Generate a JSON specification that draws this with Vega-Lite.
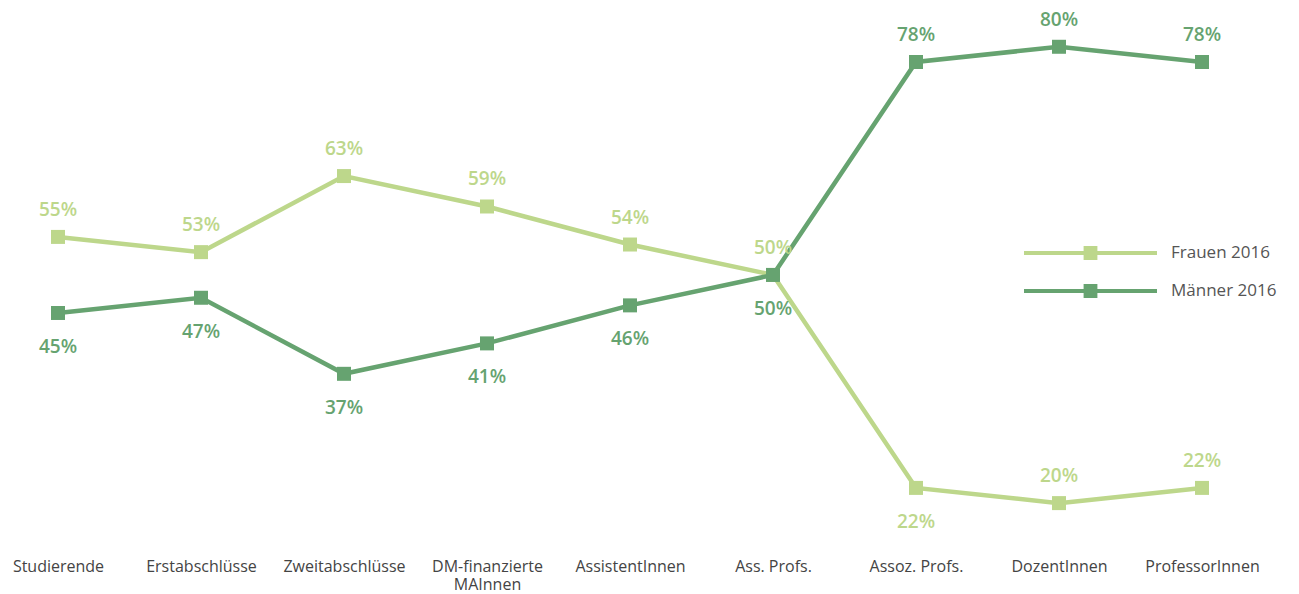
{
  "$schema": "https://vega.github.io/schema/vega-lite/v6.json",
  "width": 1260,
  "height": 540,
  "padding": 0,
  "autosize": {"type": "pad"},
  "background": "white",
  "config": {"view": {"stroke": null}, "font": "Open Sans"},
  "data": {
    "values": [
      {"cat": "Studierende", "g": "Frauen 2016", "v": 0.55},
      {"cat": "Erstabschlüsse", "g": "Frauen 2016", "v": 0.53},
      {"cat": "Zweitabschlüsse", "g": "Frauen 2016", "v": 0.63},
      {"cat": "DM-finanzierte MAInnen", "g": "Frauen 2016", "v": 0.59},
      {"cat": "AssistentInnen", "g": "Frauen 2016", "v": 0.54},
      {"cat": "Ass. Profs.", "g": "Frauen 2016", "v": 0.50},
      {"cat": "Assoz. Profs.", "g": "Frauen 2016", "v": 0.22},
      {"cat": "DozentInnen", "g": "Frauen 2016", "v": 0.20},
      {"cat": "ProfessorInnen", "g": "Frauen 2016", "v": 0.22},
      {"cat": "Studierende", "g": "Männer 2016", "v": 0.45},
      {"cat": "Erstabschlüsse", "g": "Männer 2016", "v": 0.47},
      {"cat": "Zweitabschlüsse", "g": "Männer 2016", "v": 0.37},
      {"cat": "DM-finanzierte MAInnen", "g": "Männer 2016", "v": 0.41},
      {"cat": "AssistentInnen", "g": "Männer 2016", "v": 0.46},
      {"cat": "Ass. Profs.", "g": "Männer 2016", "v": 0.50},
      {"cat": "Assoz. Profs.", "g": "Männer 2016", "v": 0.78},
      {"cat": "DozentInnen", "g": "Männer 2016", "v": 0.80},
      {"cat": "ProfessorInnen", "g": "Männer 2016", "v": 0.78}
    ]
  },
  "encoding": {
    "x": {
      "field": "cat",
      "type": "nominal",
      "sort": null,
      "scale": {"type": "point", "padding": 0.4056},
      "axis": {
        "title": null,
        "domain": false,
        "ticks": false,
        "grid": false,
        "labelAngle": 0,
        "labelFontSize": 16,
        "labelColor": "#444444",
        "labelPadding": 18,
        "labelOverlap": false,
        "labelBound": false,
        "labelLimit": 0,
        "labelLineHeight": 18,
        "labelExpr": "datum.value == 'DM-finanzierte MAInnen' ? ['DM-finanzierte', 'MAInnen'] : datum.label"
      }
    },
    "y": {
      "field": "v",
      "type": "quantitative",
      "scale": {"domain": [0.1515, 0.8615], "nice": false, "zero": false},
      "axis": null
    },
    "color": {
      "field": "g",
      "type": "nominal",
      "scale": {"domain": ["Frauen 2016", "Männer 2016"], "range": ["#bdd78b", "#66a370"]},
      "legend": {
        "title": null,
        "orient": "none",
        "legendX": 1081.5,
        "legendY": 244,
        "padding": 0,
        "symbolType": "M-9.5,0H9.5M-0.7,-0.7H0.7V0.7H-0.7Z",
        "symbolSize": 196,
        "symbolStrokeWidth": 4,
        "labelOffset": 71.5,
        "labelFontSize": 17,
        "labelColor": "#555555",
        "rowPadding": 12,
        "encode": {
          "symbols": {
            "update": {
              "fill": {"scale": "color", "field": "value"},
              "stroke": {"scale": "color", "field": "value"},
              "opacity": {"value": 1}
            }
          }
        }
      }
    }
  },
  "layer": [
    {"mark": {"type": "line", "strokeWidth": 4.5}},
    {"mark": {"type": "point", "shape": "square", "filled": true, "size": 196, "opacity": 1}},
    {
      "transform": [{"filter": "(datum.g == 'Frauen 2016' && datum.cat != 'Assoz. Profs.') || (datum.g == 'Männer 2016' && indexof(['Assoz. Profs.', 'DozentInnen', 'ProfessorInnen'], datum.cat) >= 0)"}],
      "mark": {"type": "text", "dy": -27, "fontSize": 19, "fontWeight": 600, "baseline": "middle", "align": "center"},
      "encoding": {"text": {"field": "v", "type": "quantitative", "format": ".0%"}}
    },
    {
      "transform": [{"filter": "!((datum.g == 'Frauen 2016' && datum.cat != 'Assoz. Profs.') || (datum.g == 'Männer 2016' && indexof(['Assoz. Profs.', 'DozentInnen', 'ProfessorInnen'], datum.cat) >= 0))"}],
      "mark": {"type": "text", "dy": 34, "fontSize": 19, "fontWeight": 600, "baseline": "middle", "align": "center"},
      "encoding": {"text": {"field": "v", "type": "quantitative", "format": ".0%"}}
    }
  ]
}
